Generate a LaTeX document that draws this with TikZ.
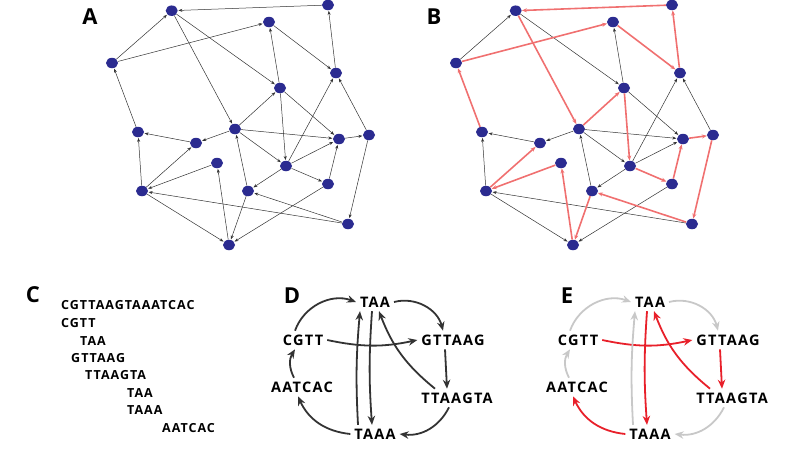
\documentclass[tikz,border=0pt]{standalone}
\usepackage{fontspec}
\setmainfont{Open Sans}
\usetikzlibrary{arrows.meta,shapes.geometric}
\definecolor{dotc}{HTML}{2B2B90}
\definecolor{ered}{HTML}{F07070}
\definecolor{dred}{HTML}{E8202A}
\definecolor{dgray}{HTML}{333333}
\definecolor{lgray}{HTML}{C8C8C8}
\begin{document}
\begin{tikzpicture}[x=1pt,y=-1pt,
  dot/.style={ellipse,fill=dotc,minimum width=12pt,minimum height=10.5pt,inner sep=0pt},
  e/.style={-{Stealth[length=4pt,width=3pt]},draw=black!80,line width=0.5pt,shorten >=0.5pt},
  r/.style={-{Stealth[length=5pt,width=4pt]},draw=ered,line width=1.6pt},
  lab/.style={font=\bfseries\fontsize{22}{22}\selectfont},
  w/.style={font=\bfseries\fontsize{12.5}{13}\selectfont\addfontfeature{LetterSpace=8},inner sep=1pt},
  ww/.style={font=\bfseries\fontsize{14.5}{15}\selectfont\addfontfeature{LetterSpace=9},inner sep=1pt,outer sep=3pt},
  da/.style={-{Stealth[length=9pt,width=7.5pt]},line width=1.8pt,draw=dgray},
  ea/.style={-{Stealth[length=9pt,width=7.5pt]},line width=1.8pt,draw=dred},
  ga/.style={-{Stealth[length=9pt,width=7.5pt]},line width=1.8pt,draw=lgray}]
\useasboundingbox (0,0) rectangle (800,450);
\foreach \p/\dx/\L in {a/0/A,b/344/B}{
\node[lab] (\p lab) at (90+\dx,17) {\L};
\node[dot] (\p1) at (171.7+\dx,10.7) {};
\node[dot] (\p2) at (328+\dx,5) {};
\node[dot] (\p3) at (269+\dx,22) {};
\node[dot] (\p4) at (112+\dx,63) {};
\node[dot] (\p5) at (336+\dx,73) {};
\node[dot] (\p6) at (280+\dx,88) {};
\node[dot] (\p7) at (235+\dx,129) {};
\node[dot] (\p8) at (138+\dx,132) {};
\node[dot] (\p9) at (196+\dx,143) {};
\node[dot] (\p10) at (339+\dx,139) {};
\node[dot] (\p11) at (369+\dx,135) {};
\node[dot] (\p12) at (217+\dx,163) {};
\node[dot] (\p13) at (286+\dx,166) {};
\node[dot] (\p14) at (328+\dx,184) {};
\node[dot] (\p15) at (142+\dx,191) {};
\node[dot] (\p16) at (248+\dx,191) {};
\node[dot] (\p17) at (348+\dx,224) {};
\node[dot] (\p18) at (229+\dx,245) {};
}
% panel A all black
\foreach \s/\t in {2/1,4/1,4/3,1/6,1/7,3/5,6/3,5/2,8/4,9/8,7/9,7/6,7/10,7/13,6/13,6/10,13/5,13/10,13/14,13/16,10/11,11/5,11/17,14/10,14/18,15/8,15/9,12/15,15/18,18/12,16/7,16/18,17/16,17/15}
  \draw[e] (a\s) -- (a\t);
% panel B black
\foreach \s/\t in {4/1,1/6,6/3,9/8,7/9,7/10,7/13,6/10,13/5,13/10,13/16,11/5,14/18,15/8,15/18,16/7,17/15}
  \draw[e] (b\s) -- (b\t);
\foreach \s/\t in {2/1,4/3,1/7,3/5,5/2,8/4,7/6,6/13,13/14,14/10,10/11,11/17,17/16,16/18,18/12,12/15,15/9}
  \draw[r] (b\s) -- (b\t);
% panel C
\node[lab] (clab) at (33,295) {C};
\node[w,anchor=west] (c0) at (60,305) {CGTTAAGTAAATCAC};
\node[w,anchor=west] (c1) at (60,323) {CGTT};
\node[w,anchor=west] (c2) at (79,341) {TAA};
\node[w,anchor=west] (c3) at (70,358) {GTTAAG};
\node[w,anchor=west] (c4) at (84,375) {TTAAGTA};
\node[w,anchor=west] (c5) at (126,393) {TAA};
\node[w,anchor=west] (c6) at (126,410) {TAAA};
\node[w,anchor=west] (c7) at (161,428) {AATCAC};
% panels D and E
\foreach \p/\dx/\L in {d/0/D,e/275/E}{
\node[lab] (\p lab) at (292+\dx,296) {\L};
\node[ww] (\p TAA) at (375+\dx,302) {TAA};
\node[ww] (\p CGTT) at (303+\dx,340) {CGTT};
\node[ww] (\p GTTAAG) at (453+\dx,340) {GTTAAG};
\node[ww] (\p AATCAC) at (302+\dx,387) {AATCAC};
\node[ww] (\p TTAAGTA) at (457+\dx,398) {TTAAGTA};
\node[ww] (\p TAAA) at (375+\dx,434) {TAAA};
}
\newcommand\dedges[4]{%
\draw[#1] ([xshift=-8pt]#4CGTT.north) to[bend left=45] (#4TAA.west);
\draw[#2] (#4TAA.east) to[bend left=45] ([xshift=-10pt]#4GTTAAG.north);
\draw[#3] (#4CGTT.east) to[bend right=12] (#4GTTAAG.west);
\draw[#3] ([xshift=-8pt]#4GTTAAG.south) -- ([xshift=-10pt]#4TTAAGTA.north);
\draw[#2] ([xshift=-8pt]#4TTAAGTA.south) to[bend left=35] (#4TAAA.east);
\draw[#3] (#4TAAA.west) to[bend left=30] ([xshift=-4pt]#4AATCAC.south);
\draw[#1] ([xshift=-8pt]#4AATCAC.north) to[bend left=30] ([xshift=-8pt]#4CGTT.south);
\draw[#1] ([xshift=-17pt]#4TAAA.north) to[bend left=4] ([xshift=-15pt]#4TAA.south);
\draw[#3] ([xshift=-3pt]#4TAA.south) to[bend right=4] ([xshift=-3pt]#4TAAA.north);
\draw[#3] ([xshift=-22pt]#4TTAAGTA.north) to[bend left=15] ([xshift=4pt]#4TAA.south);
}
\dedges{da}{da}{da}{d}
\dedges{ga}{ga}{ea}{e}
\end{tikzpicture}
\end{document}
